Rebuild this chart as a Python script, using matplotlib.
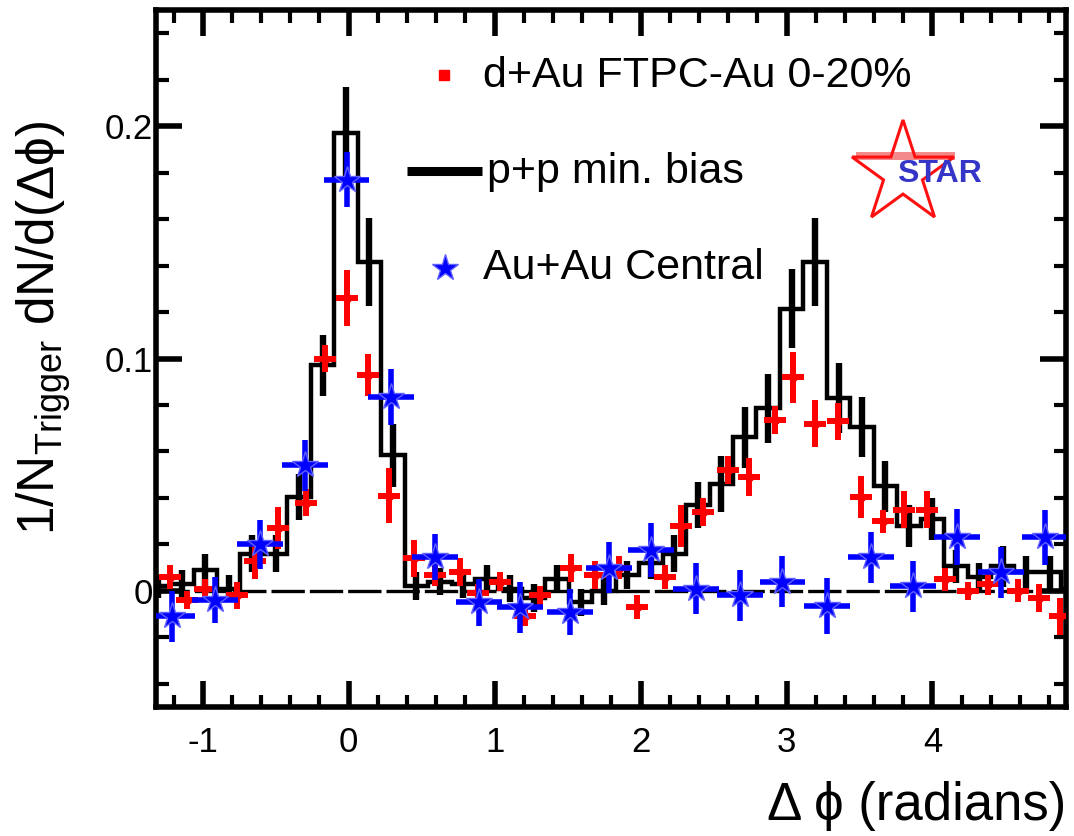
import numpy as np
import matplotlib
matplotlib.use("Agg")
import matplotlib.pyplot as plt
from matplotlib.patches import Polygon, Rectangle
from matplotlib.ticker import MultipleLocator, FixedLocator

plt.rcParams['font.family'] = ['Liberation Sans', 'DejaVu Sans']
plt.rcParams['mathtext.fontset'] = 'custom'
plt.rcParams['mathtext.rm'] = 'Liberation Sans'
plt.rcParams['mathtext.it'] = 'Liberation Sans:italic'

# ---------------- data ----------------
# p+p minimum bias: fixed-width histogram in delta-phi
PP_FIRST_EDGE = -1.384
PP_BIN_WIDTH = 0.1607
pp_counts = [0.002, 0.003, 0.009, 0.001, 0.016, 0.016, 0.0405, 0.097, 0.197, 0.1414,
             0.0584, 0.002, 0.004, 0.003, 0.005, 0.001, -0.003, 0.005, -0.005, 0.000,
             0.007, 0.012, 0.016, 0.037, 0.046, 0.066, 0.0785, 0.1215, 0.1415, 0.083,
             0.0706, 0.045, 0.028, 0.031, 0.0105, 0.006, 0.0105, 0.008, 0.008, 0.001]
pp_errors = [0.005, 0.006, 0.007, 0.006, 0.008, 0.008, 0.010, 0.013, 0.020, 0.019,
             0.0135, 0.006, 0.006, 0.006, 0.006, 0.006, 0.006, 0.006, 0.006, 0.006,
             0.006, 0.007, 0.008, 0.010, 0.012, 0.013, 0.015, 0.017, 0.019, 0.015,
             0.013, 0.011, 0.009, 0.009, 0.007, 0.006, 0.009, 0.007, 0.007, 0.006]

# d+Au FTPC-Au 0-20%
dau_dphi = [-1.225, -1.108, -0.985, -0.765, -0.642, -0.484, -0.293, -0.163, -0.014, 0.132,
            0.276, 0.447, 0.591, 0.763, 0.886, 1.037, 1.209, 1.311, 1.523, 1.688,
            1.853, 1.975, 2.167, 2.277, 2.428, 2.599, 2.743, 2.921, 3.044, 3.195,
            3.353, 3.510, 3.661, 3.805, 3.963, 4.086, 4.244, 4.380, 4.586, 4.730, 4.874]
dau_val = [0.006, -0.004, 0.001, -0.002, 0.013, 0.027, 0.038, 0.100, 0.126, 0.093,
           0.041, 0.014, 0.007, 0.008, -0.001, 0.004, -0.011, -0.002, 0.010, 0.007,
           0.010, -0.007, 0.006, 0.028, 0.034, 0.052, 0.049, 0.0735, 0.092, 0.072,
           0.073, 0.0405, 0.030, 0.035, 0.035, 0.005, 0.000, 0.003, 0.000, -0.003, -0.011]
dau_err = [0.005, 0.004, 0.004, 0.006, 0.008, 0.009, 0.006, 0.006, 0.012, 0.009,
           0.012, 0.008, 0.005, 0.006, 0.004, 0.004, 0.004, 0.004, 0.006, 0.006,
           0.005, 0.005, 0.005, 0.009, 0.006, 0.006, 0.008, 0.006, 0.011, 0.010,
           0.008, 0.009, 0.005, 0.008, 0.008, 0.005, 0.004, 0.005, 0.005, 0.006, 0.008]
DAU_HALF_BIN = 0.075

# Au+Au central
auau_dphi = [-1.211, -0.916, -0.608, -0.299, -0.014, 0.290, 0.591, 0.893, 1.174, 1.517,
             1.784, 2.071, 2.380, 2.682, 2.970, 3.277, 3.579, 3.867, 4.168, 4.470, 4.771]
auau_val = [-0.011, -0.004, 0.020, 0.054, 0.177, 0.0835, 0.0145, -0.005, -0.007, -0.009,
            0.010, 0.0175, 0.001, -0.002, 0.004, -0.0065, 0.0145, 0.002, 0.0233, 0.008, 0.023]
auau_err = [0.011, 0.010, 0.0105, 0.011, 0.012, 0.012, 0.010, 0.010, 0.011, 0.010,
            0.011, 0.0115, 0.011, 0.011, 0.011, 0.012, 0.011, 0.011, 0.012, 0.011, 0.012]
AUAU_HALF_BIN = 0.155

x_ticks = [-1, 0, 1, 2, 3, 4]
x_ticklabels = ['-1', '0', '1', '2', '3', '4']
y_ticks = [0.0, 0.1, 0.2]
y_ticklabels = ['0', '0.1', '0.2']

legend_labels = ['d+Au FTPC-Au 0-20%', 'p+p min. bias', 'Au+Au Central']

# ---------------- figure ----------------
W, H = 1074, 836
fig = plt.figure(figsize=(W / 100, H / 100), dpi=100)
AX_L, AX_R, AX_T, AX_B = 156, 1066, 10, 707
ax = fig.add_axes([AX_L / W, 1 - AX_B / H, (AX_R - AX_L) / W, (AX_B - AX_T) / H])
ax.set_xlim(-1.32, 4.915)
ax.set_ylim(-0.05, 0.25)

# zero reference line
ax.axhline(0, color='black', lw=2.4, dashes=(10.0, 1.5), zorder=1)

# p+p histogram with error bars
n_pp = len(pp_counts)
pp_edges = PP_FIRST_EDGE + PP_BIN_WIDTH * np.arange(n_pp + 1)
pp_centers = 0.5 * (pp_edges[:-1] + pp_edges[1:])
ax.stairs(pp_counts, pp_edges, baseline=None, color='black', lw=3.2, zorder=2)
ax.errorbar(pp_centers, pp_counts, yerr=pp_errors, fmt='none', ecolor='black',
            elinewidth=4.6, capsize=0, zorder=2)

# d+Au points
ax.errorbar(dau_dphi, dau_val, xerr=DAU_HALF_BIN, yerr=dau_err, fmt='s', color='#ff0000',
            ms=5, mec='#ff0000', elinewidth=4.3, capsize=0, zorder=3)

# Au+Au points
ax.errorbar(auau_dphi, auau_val, xerr=AUAU_HALF_BIN, yerr=auau_err, fmt='*', color='#0000ff',
            ms=20, mec='#6060ff', mew=1.0, elinewidth=4.0, capsize=0, zorder=4)

# axes styling
for sp in ax.spines.values():
    sp.set_linewidth(4.0)
ax.xaxis.set_major_locator(FixedLocator(x_ticks))
ax.set_xticklabels(x_ticklabels)
ax.yaxis.set_major_locator(FixedLocator(y_ticks))
ax.set_yticklabels(y_ticklabels)
ax.xaxis.set_minor_locator(MultipleLocator(0.2))
ax.yaxis.set_minor_locator(MultipleLocator(0.02))
ax.tick_params(which='both', direction='in', top=True, right=True)
ax.tick_params(which='major', length=19, width=4.0)
ax.tick_params(which='minor', length=9, width=3.0)
ax.tick_params(axis='x', which='major', labelsize=25, pad=14)
ax.tick_params(axis='y', which='major', labelsize=25, pad=2)

# legend
tA = ax.transAxes
def fx(px):
    return (px - AX_L) / (AX_R - AX_L)
def fy(py):
    return (AX_B - py) / (AX_B - AX_T)

ax.plot([fx(444)], [fy(75)], 's', color='#ff0000', ms=7, transform=tA, clip_on=False, zorder=5)
ax.text(fx(483), fy(76), legend_labels[0], transform=tA, fontsize=31, va='center', ha='left')
ax.plot([fx(407), fx(482)], [fy(171), fy(171)], color='black', lw=6.5, transform=tA,
        solid_capstyle='butt', zorder=5)
ax.text(fx(487), fy(172), legend_labels[1], transform=tA, fontsize=31, va='center', ha='left')
ax.plot([fx(445)], [fy(268)], '*', color='#0000ff', mec='#6060ff', mew=1.0, ms=20,
        transform=tA, zorder=5)
ax.text(fx(483), fy(268), legend_labels[2], transform=tA, fontsize=31, va='center', ha='left')

# STAR logo: red outlined star, pink band, blue lettering
cx, cy, R = 903, 173.6, 53.6
ang_outer = np.deg2rad(90 + 72 * np.arange(5))
ang_inner = ang_outer + np.deg2rad(36)
verts = []
for ao, ai in zip(ang_outer, ang_inner):
    verts.append((fx(cx + R * np.cos(ao)), fy(cy - R * np.sin(ao))))
    verts.append((fx(cx + 0.382 * R * np.cos(ai)), fy(cy - 0.382 * R * np.sin(ai))))
ax.add_patch(Rectangle((fx(856), fy(160)), fx(955) - fx(856), fy(152) - fy(160),
                       transform=tA, facecolor='#f28a8a', edgecolor='none', zorder=5))
ax.add_patch(Polygon(verts, closed=True, transform=tA, facecolor='none',
                     edgecolor='#ff1010', lw=2.2, zorder=6))
ax.text(fx(939), fy(174), 'STAR', transform=tA, fontsize=23, fontweight='bold',
        color='#3535c8', ha='center', va='center', zorder=7)

# axis titles
fig.text(AX_R / W, 1 - 806 / H, 'Δ ϕ (radians)', fontsize=38, ha='right', va='center')
fig.text(44 / W, 1 - 328 / H, r'1/N$_{\mathrm{Trigger}}$ dN/d(Δϕ)', fontsize=37,
         rotation=90, ha='center', va='center')

fig.savefig('out.png', dpi=100)
